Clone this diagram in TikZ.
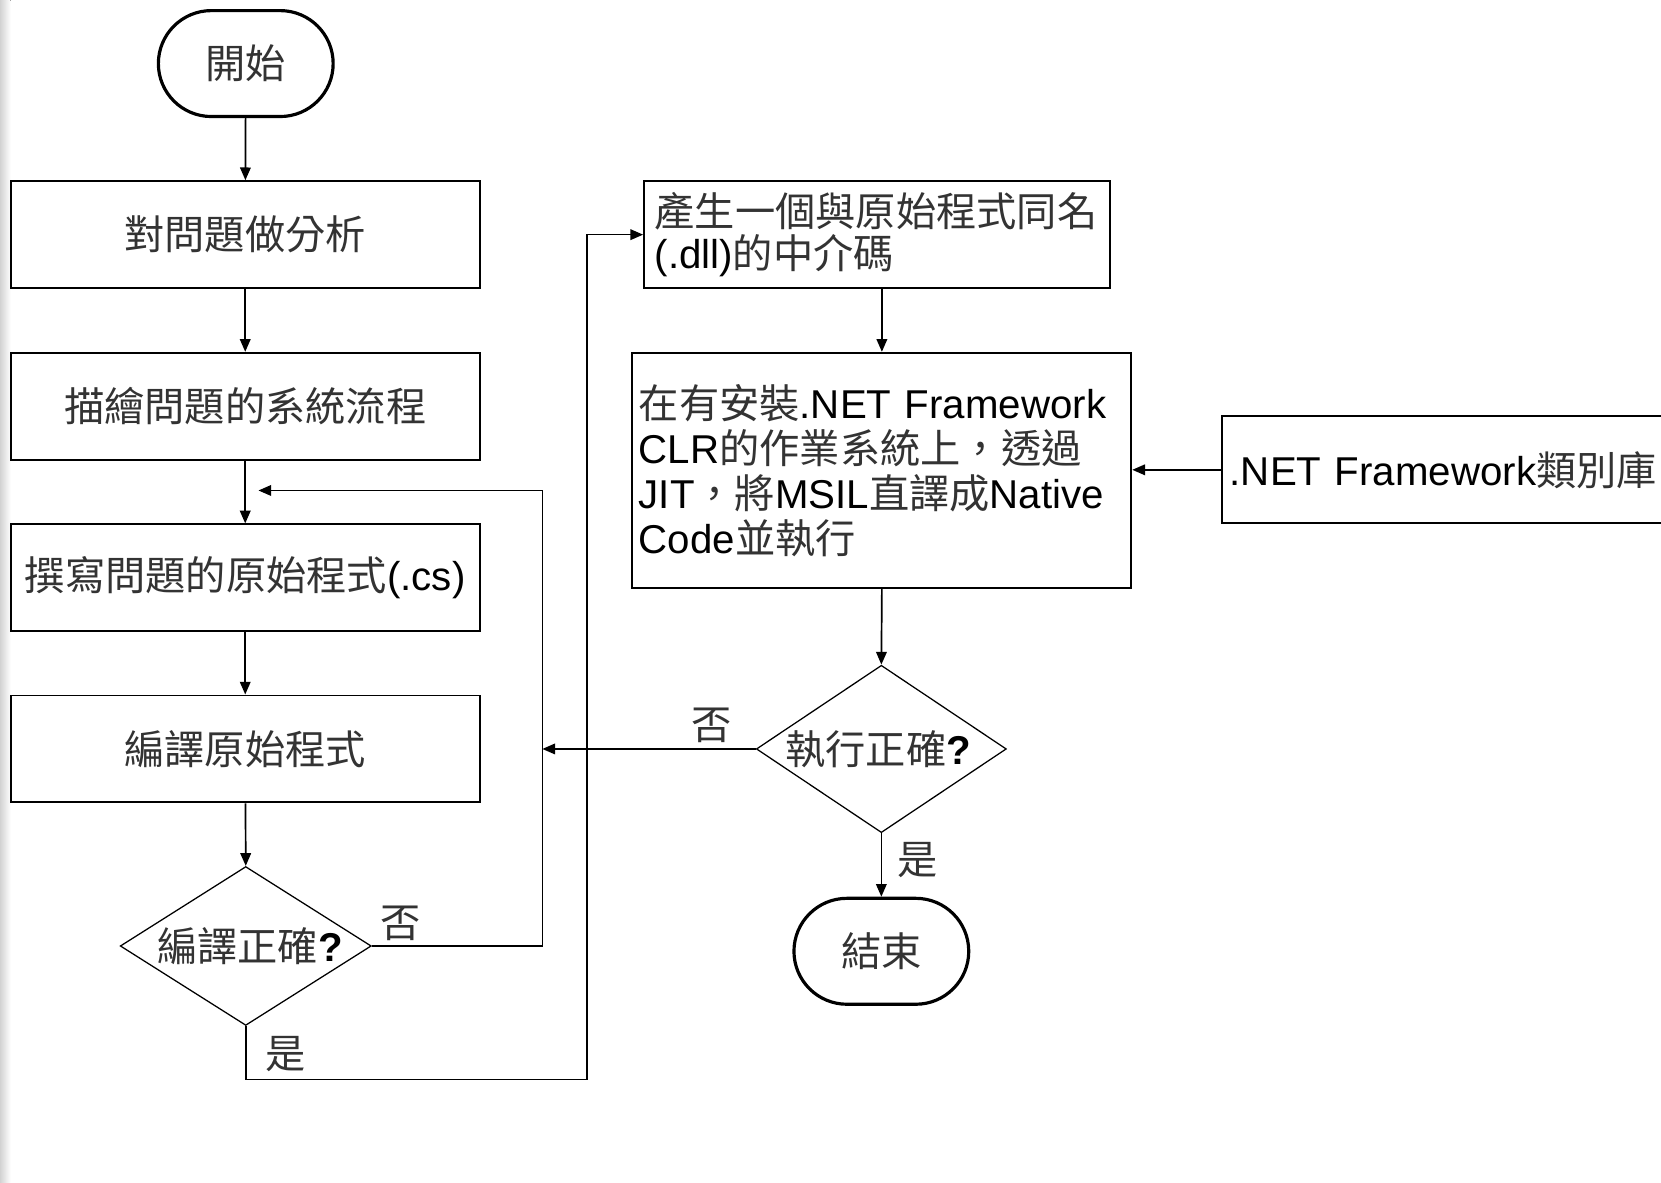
\documentclass[tikz,border=0pt]{standalone}
\usepackage{fontspec}
\setmainfont{Liberation Sans}
\newfontfamily\cjkf{Noto Sans CJK TC}
\usetikzlibrary{arrows.meta,shapes.geometric,shapes.misc}
\newcommand\zh[1]{{\cjkf\color{black!80}#1}}
\begin{document}
\begin{tikzpicture}[x=0.5pt,y=-0.5pt,
  every node/.style={font=\fontsize{19}{21}\selectfont},
  box/.style={draw,line width=0.9pt,rectangle,minimum width=221.5pt,minimum height=50.5pt,inner sep=0pt},
  term/.style={draw,line width=1.5pt,rounded rectangle,minimum width=82.5pt,minimum height=50pt,inner sep=0pt},
  dec/.style={draw,line width=0.6pt,diamond,inner sep=0pt},
  txt/.style={inner sep=0pt},
  arr/.style={-{Triangle[length=6pt,width=5pt]},line width=0.8pt},
  lbl/.style={inner sep=0pt}
]
\useasboundingbox (0,0) rectangle (1568,1116);
\clip (0,0) rectangle (1568,1116);
\fill[white] (0,0) rectangle (1568,1116);
\fill[left color=gray!35, right color=white] (0,0) rectangle (10,1116);

% left column
\node[term] (start) at (232,60) {\zh{開始}};
\node[box] (b1) at (231.5,221.5) {\zh{對問題做分析}};
\node[box] (b2) at (231.5,383.5) {\zh{描繪問題的系統流程}};
\node[box] (b3) at (231.5,545.5) {\zh{撰寫問題的原始程式}(.cs)};
\node[box] (b4) at (231.5,707) {\zh{編譯原始程式}};
\node[dec,minimum width=118.5pt,minimum height=75pt] (d1) at (232,893) {};
\node[txt] (d1t) at (236,893) {\zh{編譯正確}\textbf{?}};

% right column
\node[box,minimum width=220pt,text width=210pt,inner xsep=5pt,align=left,
      font=\fontsize{19}{20}\selectfont] (b5) at (828,221.5)
  {\zh{產生一個與原始程式同名}\\(.dll)\zh{的中介碼}};
\node[box,minimum width=235.5pt,minimum height=111pt,text width=229.5pt,inner xsep=3pt,align=left,
      font=\fontsize{19}{21.2}\selectfont] (b6) at (832.5,444)
  {\zh{在有安裝}.NET Framework\\CLR\zh{的作業系統上，透過}\\JIT\zh{，將}MSIL\zh{直譯成}Native\\Code\zh{並執行}};
\node[box,anchor=west,minimum width=240pt,text width=233pt,inner xsep=3.5pt,align=left] (b7) at (1153,443.5)
  {.NET Framework\zh{類別庫}};
\node[dec,minimum width=118pt,minimum height=79pt] (d2) at (832,707) {};
\node[txt] (d2t) at (829,707) {\zh{執行正確}\textbf{?}};
\node[term] (end) at (832,898) {\zh{結束}};

% coordinates
\coordinate (c1) at (512,463);
\coordinate (j1) at (244,463);
\coordinate (c2) at (554,1019);

% main flow
\draw[arr] (start) -- (b1);
\draw[arr] (b1) -- (b2);
\draw[arr] (b2) -- (b3);
\draw[arr] (b3) -- (b4);
\draw[arr] (b4) -- (d1.north);
\draw[arr] (d1.east) -| (c1) -- (j1);
\draw[arr] (d1.south) |- (c2) |- (b5.west);
\draw[arr] (b6.north |- b5.south) -- (b6.north);
\draw[arr] (b7.west) -- (b6.east |- b7.west);
\draw[arr] (b6.south) -- (d2.north);
\draw[arr] (d2.west) -- (d2.west -| c1);
\draw[arr] (d2.south) -- (end.north);

% labels
\node[lbl] (n1) at (378,872) {\zh{否}};
\node[lbl] (y1) at (270,995) {\zh{是}};
\node[lbl] (n2) at (672,685) {\zh{否}};
\node[lbl] (y2) at (866,812) {\zh{是}};
\end{tikzpicture}
\end{document}
